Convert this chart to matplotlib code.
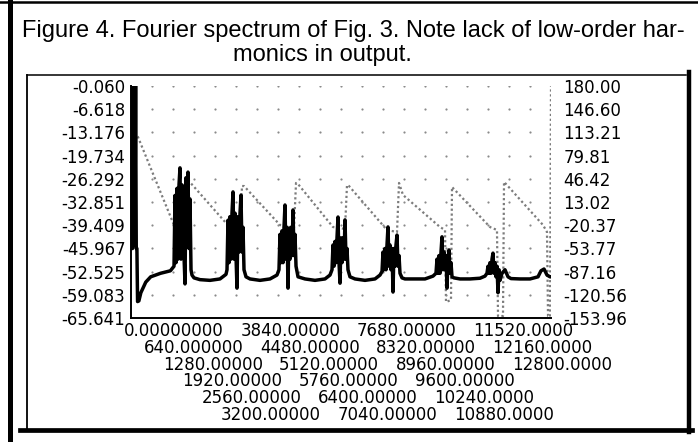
import numpy as np
import matplotlib.pyplot as plt
from matplotlib.lines import Line2D
from matplotlib.transforms import ScaledTranslation

# magnitude (dB, left axis), cluster by cluster
mag_x = [0, 15, 30, 45, 60, 80, 100, 120, 140, 160, 180, 200, 240, 300, 450, 600, 900, 1200,
         1311, 1341, 1371, 1402, 1432, 1463, 1493, 1524, 1554, 1585, 1615, 1646, 1676, 1707, 1737, 1768, 1798, 1829,
         1859, 1920,
         2103, 2408, 2712, 2895,
         2926, 2956, 2987, 3017, 3048, 3078, 3109, 3139, 3170, 3200, 3230, 3261, 3291, 3322, 3352, 3383, 3413, 3444,
         3505,
         3627, 3931, 4236, 4449,
         4510, 4541, 4571, 4602, 4632, 4663, 4693, 4724, 4754, 4785, 4815, 4846, 4876, 4907, 4937, 4968, 4998, 5029,
         5090,
         5303, 5608, 5912, 6065,
         6126, 6156, 6187, 6217, 6248, 6278, 6309, 6339, 6370, 6400, 6430, 6461, 6491, 6522, 6552, 6583, 6613, 6674,
         6827, 7131, 7436, 7589,
         7650, 7680, 7710, 7741, 7771, 7802, 7832, 7863, 7893, 7924, 7954, 7985, 8015, 8046, 8076, 8107, 8137, 8168,
         8198, 8259,
         8350, 8655, 8960, 9204,
         9295, 9326, 9356, 9387, 9417, 9448, 9478, 9509, 9539, 9570, 9600, 9630, 9661, 9691, 9722, 9752, 9783, 9844,
         10027, 10331, 10636, 10788,
         10849, 10880, 10910, 10941, 10971, 11002, 11032, 11063, 11093, 11124, 11154, 11185, 11215, 11246, 11307,
         11398, 11490, 11581,
         11855, 12160, 12404, 12495, 12587, 12678, 12770, 12800]
mag_db = [-14.0, -46, -14.5, -46, -0.06, -45, -0.06, -45, -0.06, -46, -46, -61.0, -60.8, -58.5, -55.5, -54.0, -53.0, -52.3,
          -51.0, -31, -50, -29, -49, -28, -23.2, -49, -28, -29, -48, -56, -26, -45, -24.4, -46, -32, -52,
          -53.5, -54.3,
          -54.8, -55.0, -54.6, -53.3,
          -52, -38, -50, -37, -49, -36, -30.0, -49, -36, -48, -57.2, -37, -47, -36, -30.9, -47, -40, -52,
          -54.0,
          -54.6, -55.0, -54.6, -53.5,
          -52, -42, -50, -41, -50, -40, -33.7, -49, -40, -57.2, -41, -49, -40, -48, -35.1, -48, -42, -51,
          -54.0,
          -54.6, -55.0, -54.6, -53.5,
          -52, -45, -51, -44, -50, -43, -37.1, -50, -55.8, -43, -50, -43, -49, -37.9, -49, -46, -52, -54.0,
          -54.6, -55.0, -54.6, -53.5,
          -52.5, -47, -52, -46, -52, -45, -39.9, -51, -45, -52, -46, -58.3, -46, -51, -45, -42.2, -51, -48,
          -53, -54.3,
          -54.6, -54.6, -54.6, -53.8,
          -53, -49, -53, -48, -53, -47, -42.7, -52, -47, -52, -48, -57.2, -49, -46.4, -53, -50, -54, -54.3,
          -54.6, -54.6, -54.4, -53.8,
          -53, -51, -53, -50, -53, -49, -47.3, -53, -50, -54, -51, -58.5, -52, -55, -53,
          -52, -54, -54.5,
          -54.6, -54.6, -54.0, -52.3, -51.8, -53.5, -54.0, -54.0]

# phase (degrees, right axis)
ph_x = [0, 61, 213, 1371, 1432, 1676, 1737, 2895, 3322, 3383, 3444, 4541, 4968, 5029, 5090,
        6156, 6522, 6583, 6644, 7802, 8107, 8168, 8290, 9417, 9570, 9600, 9752, 9783,
        10941, 11154, 11185, 11337, 11368, 11429, 12556, 12678, 12709, 12770, 12800]
ph_deg = [180.0, 109.5, 106.6, -27.3, -30.2, 47.6, 44.7, -17.2, -27.3, 36.0, 36.0, -20.1, -24.4, 40.4, 38.9,
          -23.0, -25.8, 37.5, 36.0, -27.3, -30.2, 40.4, 23.1, -23.0, -27.3, -130.9, -128.1, 34.6,
          -23.0, -27.3, -151.1, -151.1, 41.8, 38.9, -20.1, -30.2, -151.1, -152.5, 180.0]

x_ticks = list(range(0, 12801, 640))
x_labels = ["0.00000000", "640.000000", "1280.00000", "1920.00000", "2560.00000", "3200.00000",
            "3840.00000", "4480.00000", "5120.00000", "5760.00000", "6400.00000", "7040.00000",
            "7680.00000", "8320.00000", "8960.00000", "9600.00000", "10240.0000", "10880.0000",
            "11520.0000", "12160.0000", "12800.0000"]
left_ticks = [-0.060, -6.618, -13.176, -19.734, -26.292, -32.851, -39.409, -45.967, -52.525, -59.083, -65.641]
left_labels = ["-0.060", "-6.618", "-13.176", "-19.734", "-26.292", "-32.851", "-39.409",
               "-45.967", "-52.525", "-59.083", "-65.641"]
right_ticks = [180.00, 146.60, 113.21, 79.81, 46.42, 13.02, -20.37, -53.77, -87.16, -120.56, -153.96]
right_labels = ["180.00", "146.60", "113.21", "79.81", "46.42", "13.02", "-20.37",
                "-53.77", "-87.16", "-120.56", "-153.96"]

title1 = "Figure 4. Fourier spectrum of Fig. 3. Note lack of low-order har-"
title2 = "monics in output."

W, H = 698, 442
fig = plt.figure(figsize=(W / 100, H / 100), dpi=100)
fig.patch.set_facecolor('white')

ax = fig.add_axes([131 / W, 1 - 318 / H, 420 / W, 232 / H])
ax2 = ax.twinx()
ax.set_zorder(2)
ax.patch.set_visible(False)

# dot grid at the tick crossings
gx, gy = np.meshgrid(x_ticks[1:-1], left_ticks[:-1])
ax.scatter(gx.ravel(), gy.ravel(), s=2.5, color='#8a8a8a', linewidths=0, zorder=1)

ax.plot(mag_x, mag_db, color='black', lw=2.5, solid_joinstyle='round', zorder=3)
ax2.plot(ph_x, ph_deg, color='#7c7c7c', lw=1.6, ls=(0, (1, 1.2)))

ax.set_xlim(0, 12800)
ax.set_ylim(-65.641, -0.060)
ax2.set_ylim(-153.96, 180.0)

for s in ['top', 'right']:
    ax.spines[s].set_visible(False)
for s in ax2.spines.values():
    s.set_visible(False)
ax.spines['left'].set_linewidth(1.4)
ax.spines['bottom'].set_linewidth(1.4)

ax.set_yticks(left_ticks)
ax.set_yticklabels(left_labels)
ax2.set_yticks(right_ticks)
ax2.set_yticklabels(right_labels)
ax.tick_params(axis='y', length=0, pad=4, labelsize=12)
ax2.tick_params(axis='y', length=0, pad=9, labelsize=12)

ax.set_xticks(x_ticks)
ax.set_xticklabels(x_labels)
ax.tick_params(axis='x', length=0, pad=3, labelsize=12)
# staggered rows, typeset a little tighter than the ticks
for i, lab in enumerate(ax.get_xticklabels()):
    lab.set_ha('left')
    lab.set_va('top')
    dx = (-7 - 1.6 * i) / 100
    dy = -(i % 6) * 16.7 / 100
    lab.set_transform(lab.get_transform() + ScaledTranslation(dx, dy, fig.dpi_scale_trans))

fig.text(22 / W, 1 - 37 / H, title1, fontsize=17, family='Liberation Sans', va='baseline', ha='left')
fig.text(233 / W, 1 - 61 / H, title2, fontsize=17, family='Liberation Sans', va='baseline', ha='left')


def frame_line(x0, y0, x1, y1, lw):
    fig.add_artist(Line2D([x0 / W, x1 / W], [1 - y0 / H, 1 - y1 / H],
                          transform=fig.transFigure, color='black', lw=lw))


frame_line(0, 2, W, 2, 1.8)
frame_line(10, 0, 10, H, 3.6)
frame_line(27, 75, 686, 75, 1.1)
frame_line(27, 75, 27, 430, 1.3)
frame_line(689, 72, 689, 432, 3.2)
frame_line(20, 430, 692, 430, 3.4)

fig.savefig('out.png', dpi=100)
